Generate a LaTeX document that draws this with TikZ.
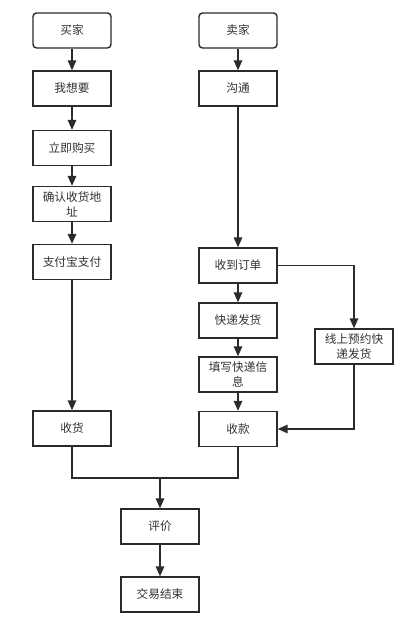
\documentclass[tikz,border=0pt]{standalone}
\usepackage{fontspec}
\setmainfont{Noto Sans CJK SC}
\usetikzlibrary{arrows.meta}
\definecolor{linegray}{HTML}{2B2B2B}
\begin{document}
\begin{tikzpicture}[x=0.025cm,y=-0.025cm,
  >={Triangle[width=6pt,length=7pt]},
  flow/.style={draw=linegray,line width=1pt},
  stepbox/.style={draw=linegray,line width=1pt,fill=white,align=center,
    minimum width=1.95cm,minimum height=0.875cm,inner sep=1pt,
    font=\fontsize{8.3}{10.5}\selectfont,text=black!80},
  startbox/.style={stepbox,rounded corners=2.5pt}]
\useasboundingbox (0,0) rectangle (400,622);
% buyer side
\node[startbox] (buyer) at (72,30.5) {买家};
\node[stepbox] (want) at (72,88.5) {我想要};
\node[stepbox] (buy) at (72,148) {立即购买};
\node[stepbox] (addr) at (72,204) {确认收货地\\址};
\node[stepbox] (pay) at (72,262) {支付宝支付};
\node[stepbox] (recv) at (72,428.5) {收货};
% seller side
\node[startbox] (seller) at (238,30.5) {卖家};
\node[stepbox] (talk) at (238,88.5) {沟通};
\node[stepbox] (order) at (238,265.5) {收到订单};
\node[stepbox] (express) at (238,320.5) {快递发货};
\node[stepbox] (fill) at (238,374.5) {填写快递信\\息};
\node[stepbox] (money) at (238,429) {收款};
\node[stepbox] (online) at (354,346.5) {线上预约快\\递发货};
% end
\node[stepbox] (review) at (160,526.5) {评价};
\node[stepbox] (finish) at (160,594.5) {交易结束};
\coordinate (join) at (160,478);

\draw[flow,->] (buyer) -- (want);
\draw[flow,->] (want) -- (buy);
\draw[flow,->] (buy) -- (addr);
\draw[flow,->] (addr) -- (pay);
\draw[flow,->] (pay) -- (recv);
\draw[flow,->] (seller) -- (talk);
\draw[flow,->] (talk) -- (order);
\draw[flow,->] (order) -- (express);
\draw[flow,->] (express) -- (fill);
\draw[flow,->] (fill) -- (money);
\draw[flow,->] (order) -| (online);
\draw[flow,->] (online) |- (money);
\draw[flow] (recv) |- (join) -| (money);
\draw[flow,->] (join) -- (review);
\draw[flow,->] (review) -- (finish);
\end{tikzpicture}
\end{document}
